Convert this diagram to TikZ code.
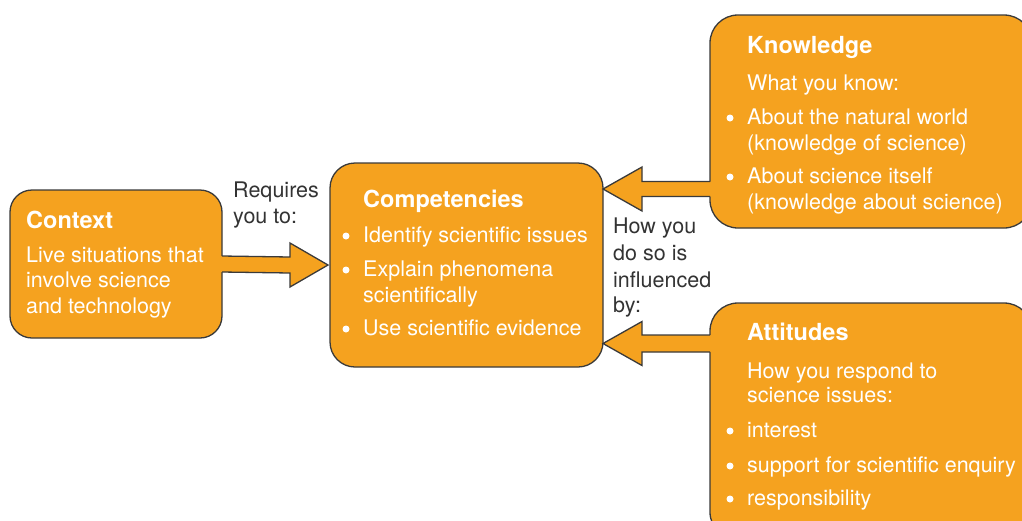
\documentclass[tikz,border=0pt]{standalone}
\usepackage{fontspec}
\setmainfont{TeX Gyre Heros}
\usetikzlibrary{calc}
\definecolor{orangefill}{RGB}{245,162,31}
\definecolor{edgegray}{RGB}{58,58,58}
\definecolor{labelgray}{RGB}{51,51,51}
\newcommand\fatarrow[5]{%
  \fill[orangefill] ([yshift=-#5]#2) -- ([yshift=-#5]#3) -- ([yshift=-22pt]#3) -- (#4) -- ([yshift=22pt]#3) -- ([yshift=#5]#3) -- ([yshift=#5]#2) -- cycle;
  \draw[edge] ([yshift=-#5]#1) -- ([yshift=-#5]#3) -- ([yshift=-22pt]#3) -- (#4) -- ([yshift=22pt]#3) -- ([yshift=#5]#3) -- ([yshift=#5]#1);
}
\begin{document}
\begin{tikzpicture}[x=1pt,y=-1pt,
  box/.style={draw=edgegray, line width=1.3pt, fill=orangefill, rounded corners=25pt, inner sep=0pt, outer sep=0pt},
  edge/.style={draw=edgegray, line width=1.3pt, line join=miter},
  body/.style={font=\fontsize{21.5}{26}\selectfont, text=white, anchor=base west, inner sep=0pt},
  title/.style={font=\fontsize{23.5}{28}\selectfont\bfseries, text=white, anchor=base west, inner sep=0pt},
  lbl/.style={font=\fontsize{21.5}{26}\selectfont, text=labelgray, anchor=base west, inner sep=0pt},
  bul/.style={circle, fill=white, inner sep=0pt, minimum size=7pt}]
\useasboundingbox (0,0) rectangle (1022,520);
\clip (0,0) rectangle (1022,520);
% boxes
\node[box, rounded corners=22pt, minimum width=212pt, minimum height=148pt] (ctx) at (116,264) {};
\node[box, minimum width=273pt, minimum height=204pt] (comp) at (466.5,265) {};
\node[box, rounded corners=28pt, minimum width=322pt, minimum height=213pt] (know) at (871,121.5) {};
\node[box, rounded corners=28pt, minimum width=322pt, minimum height=237pt] (att) at (871,421.5) {};
% arrow coordinates
\coordinate (a1s) at (ctx.east);
\coordinate (a1i) at ($(ctx.east)+(-4,0)$);
\coordinate (a1t) at ($(comp.west)+(-2,0)$);
\coordinate (a1b) at ($(a1t)+(-38,0)$);
\coordinate (a2t) at ($(comp.north east)+(0,26)$);
\coordinate (a2b) at ($(a2t)+(39,0)$);
\coordinate (a2s) at (know.west |- a2t);
\coordinate (a2i) at ($(a2s)+(4,0)$);
\coordinate (a3t) at ($(comp.south east)+(0,-23.5)$);
\coordinate (a3b) at ($(a3t)+(39,0)$);
\coordinate (a3s) at (att.west |- a3t);
\coordinate (a3i) at ($(a3s)+(4,0)$);
\fatarrow{a1s}{a1i}{a1b}{a1t}{8pt}
\fatarrow{a2s}{a2i}{a2b}{a2t}{7.5pt}
\fatarrow{a3s}{a3i}{a3b}{a3t}{8.5pt}
% Context
\node[title] (ctxt) at (26,228) {Context};
\node[body] (ctx1) at (26,262) {Live situations that};
\node[body] (ctx2) at (26,287) {involve science};
\node[body] (ctx3) at (26,313) {and technology};
% labels
\node[lbl] (req1) at (233,197) {Requires};
\node[lbl] (req2) at (233,223) {you to:};
\node[lbl] (how1) at (613,233) {How you};
\node[lbl] (how2) at (613,260) {do so is};
\node[lbl] (how3) at (613,287) {influenced};
\node[lbl] (how4) at (613,312) {by:};
% Competencies
\node[title] (compt) at (363,207) {Competencies};
\node[bul] (cb1) at (346,236) {};
\node[body] (c1) at (363,242) {Identify scientific issues};
\node[bul] (cb2) at (346,270) {};
\node[body] (c2) at (363,276) {Explain phenomena};
\node[body] (c2b) at (363,302) {scientifically};
\node[bul] (cb3) at (346,329) {};
\node[body] (c3) at (363,335) {Use scientific evidence};
% Knowledge
\node[title] (knowt) at (747,53) {Knowledge};
\node[body] (k0) at (747,90) {What you know:};
\node[bul] (kb1) at (730,118) {};
\node[body] (k1) at (747,124) {About the natural world};
\node[body] (k1b) at (747,150) {(knowledge of science)};
\node[bul] (kb2) at (730,177) {};
\node[body] (k2) at (747,183) {About science itself};
\node[body] (k2b) at (747,209) {(knowledge about science)};
% Attitudes
\node[title] (attt) at (747,340) {Attitudes};
\node[body] (t0) at (747,378) {How you respond to};
\node[body] (t0b) at (747,402) {science issues:};
\node[bul] (tb1) at (730,431) {};
\node[body] (t1) at (747,437) {interest};
\node[bul] (tb2) at (730,466) {};
\node[body] (t2) at (747,472) {support for scientific enquiry};
\node[bul] (tb3) at (730,499) {};
\node[body] (t3) at (747,505) {responsibility};
\end{tikzpicture}
\end{document}
